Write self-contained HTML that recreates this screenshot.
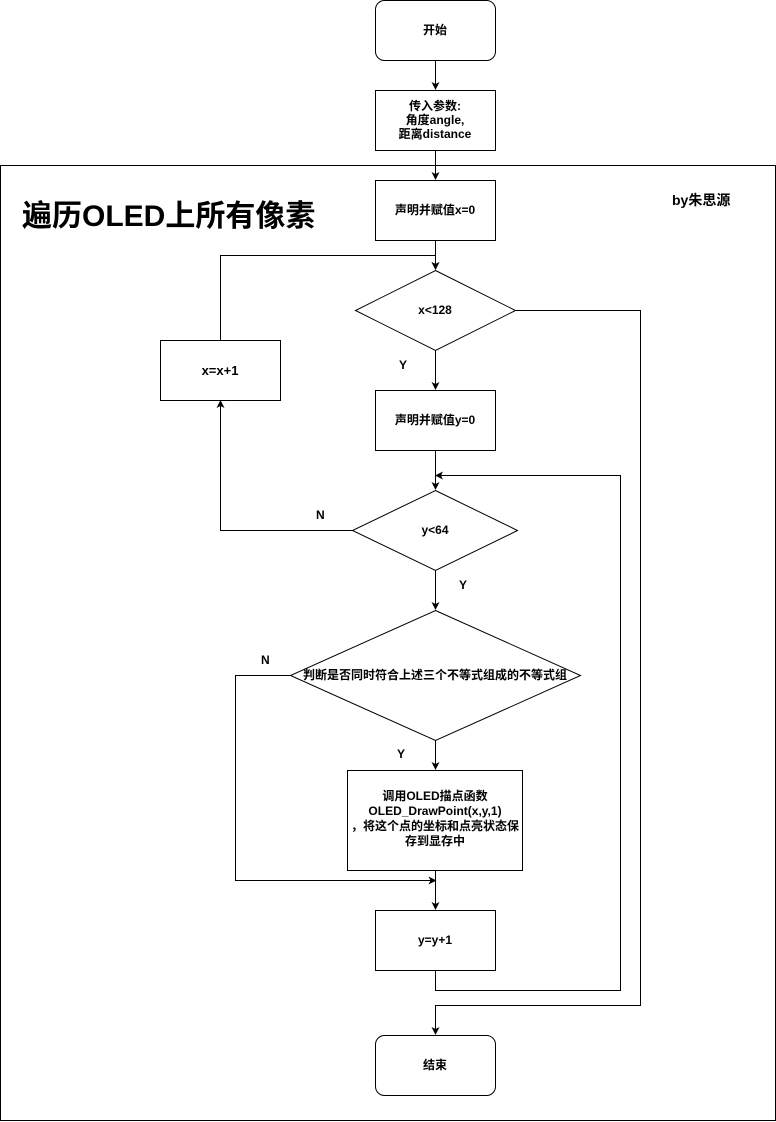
<!DOCTYPE html>
<html><head><meta charset="utf-8"><style>
html,body{margin:0;padding:0;background:#fff;}
svg{display:block}
text{font-family:"Liberation Sans","Noto Sans CJK SC",sans-serif;font-size:12px;fill:#000;font-weight:bold;}
</style></head><body>
<svg width="776" height="1122" viewBox="0 0 776 1122" xmlns="http://www.w3.org/2000/svg">
<defs><marker id="a" markerWidth="8" markerHeight="8" refX="7" refY="4" orient="auto" markerUnits="userSpaceOnUse"><path d="M0,0 L8,4 L0,8 L2,4 Z" fill="#000"/></marker></defs>
<g fill="#fff" stroke="#000" stroke-width="1">
<rect x="0.5" y="165.5" width="775" height="955"/>
<rect x="375.5" y="0.5" width="120" height="60" rx="9"/>
<rect x="375.5" y="90.5" width="120" height="60"/>
<rect x="375.5" y="180.5" width="120" height="60"/>
<polygon points="435.5,270.5 515.5,310.5 435.5,350.5 355.5,310.5"/>
<rect x="375.5" y="390.5" width="120" height="60"/>
<rect x="160.5" y="340.5" width="120" height="60"/>
<polygon points="435.5,490.5 517.5,530.5 435.5,570.5 352.5,530.5"/>
<polygon points="435.5,610.5 580.5,675.5 435.5,740.5 290.5,675.5"/>
<rect x="347.5" y="770.5" width="175" height="100"/>
<rect x="375.5" y="910.5" width="120" height="60"/>
<rect x="375.5" y="1035.5" width="120" height="60" rx="9"/>
</g>
<g fill="none" stroke="#000" stroke-width="1" marker-end="url(#a)">
<path d="M435.5,60.5 V89"/>
<path d="M435.5,150.5 V179"/>
<path d="M435.5,240.5 V269"/>
<path d="M435.5,350.5 V389"/>
<path d="M435.5,450.5 V489"/>
<path d="M435.5,570.5 V609"/>
<path d="M435.5,740.5 V769"/>
<path d="M435.5,870.5 V909"/>
<path d="M352.5,530.5 H220.5 V401"/>
<path d="M220.5,340.5 V255.5 H435.5 V269"/>
<path d="M290.5,675.5 H235.5 V880.5 H435.5"/>
<path d="M435.5,970.5 V990.5 H620.5 V475.5 H436"/>
<path d="M515.5,310.5 H640.5 V1005.5 H435.5 V1034"/>
</g>
<g text-anchor="middle">
<text x="435" y="34">开始</text>
<text x="435" y="110">传入参数:</text>
<text x="435" y="124">角度angle,</text>
<text x="435" y="138">距离distance</text>
<text x="435" y="214">声明并赋值x=0</text>
<text x="435" y="314">x&lt;128</text>
<text x="435" y="424">声明并赋值y=0</text>
<text x="220" y="375" style="font-size:13px">x=x+1</text>
<text x="435" y="534">y&lt;64</text>
<text x="435" y="679">判断是否同时符合上述三个不等式组成的不等式组</text>
<text x="435" y="800">调用OLED描点函数</text>
<text x="435" y="815">OLED_DrawPoint(x,y,1)</text>
<text x="435" y="830">，将这个点的坐标和点亮状态保</text>
<text x="435" y="845">存到显存中</text>
<text x="435" y="944">y=y+1</text>
<text x="435" y="1069">结束</text>
</g>
<text x="399" y="369">Y</text>
<text x="459" y="589">Y</text>
<text x="397" y="758">Y</text>
<text x="316" y="519">N</text>
<text x="261" y="664">N</text>
<text x="672" y="205" style="font-size:14px">by朱思源</text>
<text x="22" y="226" style="font-size:30px">遍历OLED上所有像素</text>
</svg>
</body></html>
